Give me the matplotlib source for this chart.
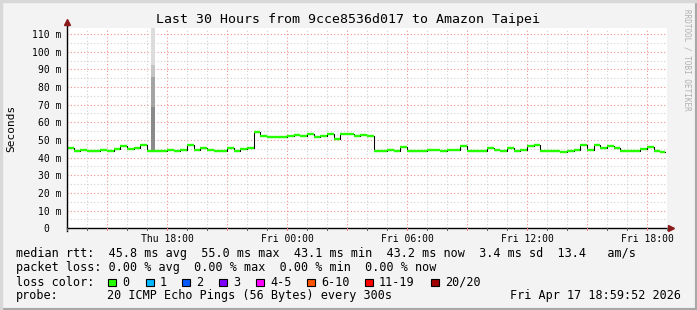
import numpy as np
import matplotlib
matplotlib.use("Agg")
from matplotlib import pyplot as plt
from matplotlib.patches import Rectangle
from matplotlib.lines import Line2D

# median rtt (ms), one sample every 20 minutes from Thu 13:00
rtt_thu = [45.5, 44.0, 44.5, 44.0, 43.8, 44.5, 44.0, 45.0, 46.5, 45.0,
           45.5, 47.0, 44.0, 44.0, 43.8, 44.5, 44.0, 44.5, 47.0, 44.5,
           45.5, 44.5, 43.8, 44.0, 45.5, 44.0, 45.0, 45.5]
rtt_night = [54.5, 52.0, 51.5, 51.5, 51.5, 52.0, 53.0, 52.5, 53.5, 51.5,
             52.5, 53.5, 50.8, 53.5, 53.5, 52.0, 53.0, 52.0]
rtt_fri = [44.0, 43.8, 44.2, 44.0, 45.8, 44.0, 43.8, 44.0, 44.2, 44.2,
           44.0, 44.6, 44.6, 46.5, 44.0, 43.8, 44.0, 45.5, 44.5, 44.0,
           45.5, 44.0, 44.5, 46.5, 47.0, 44.0, 44.0, 43.5, 43.1, 44.0,
           44.2, 47.0, 44.5, 47.0, 45.5, 46.5, 45.5, 44.0, 44.0, 44.0,
           45.0, 46.0, 44.0, 43.2]
rtt = rtt_thu + rtt_night + rtt_fri

# smoke spike around Thu 17:15 (band edges in ms)
spike_hour = 17.3
spike_edges = [44.0, 68.6, 85.6, 92.4, 113.4]
spike_greys = ["#8a8a8a", "#a4a4a4", "#c4c4c4", "#dcdcdc"]

x_ticks = [18, 24, 30, 36, 42]
x_labels = ["Thu 18:00", "Fri 00:00", "Fri 06:00", "Fri 12:00", "Fri 18:00"]
y_ticks = [0, 10, 20, 30, 40, 50, 60, 70, 80, 90, 100, 110]
y_labels = ["0  "] + [f"{v} m" for v in y_ticks[1:]]

stats_rtt = "median rtt:  45.8 ms avg  55.0 ms max  43.1 ms min  43.2 ms now  3.4 ms sd  13.4   am/s"
stats_loss = "packet loss: 0.00 % avg  0.00 % max  0.00 % min  0.00 % now"
loss_names = ["0", "1", "2", "3", "4-5", "6-10", "11-19", "20/20"]
loss_colors = ["#26ff00", "#00b8ff", "#0059ff", "#7e00ff", "#ff00ff", "#ff5500", "#ff0000", "#a10000"]
loss_x = [108, 146, 182, 219, 256, 307, 365, 431]
probe_text = "20 ICMP Echo Pings (56 Bytes) every 300s"
stamp = "Fri Apr 17 18:59:52 2026"

W, H = 697, 310
mono = "DejaVu Sans Mono"
fig = plt.figure(figsize=(W / 100, H / 100), dpi=100, facecolor="#f3f3f3")

# 3d-ish frame
fig.patches.append(Rectangle((0, 0), 1, 1, transform=fig.transFigure, fill=False,
                             edgecolor="#a8a8a8", lw=3))
fig.patches.append(Rectangle((0, 0), 0.003, 1, transform=fig.transFigure, color="#d8d8d8"))
fig.patches.append(Rectangle((0, 1), 1, -0.005, transform=fig.transFigure, color="#d8d8d8"))

x0, x1, ytop, ybot = 67, 667, 28, 228.3
ax = fig.add_axes([x0 / W, (H - ybot) / H, (x1 - x0) / W, (ybot - ytop) / H])
ax.set_facecolor("white")
ax.set_xlim(13, 43)
ax.set_ylim(0, 113.4)

# grid
for h in range(14, 43):
    major = h % 3 == 0
    ax.axvline(h, color="#f29090" if major else "#d0d0d0", lw=0.8,
               ls=(0, (1, 2)), zorder=1)
for v in range(5, 115, 5):
    major = v % 10 == 0
    ax.axhline(v, color="#f29090" if major else "#d0d0d0", lw=0.8,
               ls=(0, (1, 2)), zorder=1)

# smoke spike
for lo, hi, c in zip(spike_edges[:-1], spike_edges[1:], spike_greys):
    ax.bar(spike_hour, hi - lo, bottom=lo, width=0.18, color=c, lw=0,
           zorder=2, antialiased=False)

# median: black steps underneath, green levels on top
t = 13 + np.arange(len(rtt)) / 3
t_end = 42.92
ax.step(list(t) + [t_end], rtt + [rtt[-1]], where="post", color="black", lw=0.75, zorder=3)
ax.hlines(rtt, t, list(t[1:]) + [t_end], color="#26ff00", lw=1.7, zorder=4)

for s in ax.spines.values():
    s.set_visible(False)
ax.set_xticks(x_ticks)
ax.set_xticklabels(x_labels, fontfamily=mono, fontsize=7)
ax.set_yticks(y_ticks)
ax.set_yticklabels(y_labels, fontfamily=mono, fontsize=7)
ax.tick_params(length=0, pad=4)

# axes lines with arrows
def fx(px):
    return px / W

def fy(py):
    return 1 - py / H

fig.add_artist(Line2D([fx(66.5), fx(669)], [fy(ybot), fy(ybot)], color="black", lw=1))
fig.add_artist(Line2D([fx(66.5), fx(66.5)], [fy(ybot + 3), fy(24)], color="black", lw=1))
fig.add_artist(Line2D([fx(671)], [fy(ybot)], marker=">", color="#8b1a1a", ms=4, lw=0))
fig.add_artist(Line2D([fx(66.5)], [fy(22)], marker="^", color="#8b1a1a", ms=4, lw=0))
for h in range(13, 44):
    px = x0 + (h - 13) * 20
    c = "#f08080" if h % 3 == 0 else "#606060"
    fig.add_artist(Line2D([fx(px), fx(px)], [fy(ybot), fy(ybot + 2)], color=c, lw=0.7))

fig.text(0.5, fy(19), "Last 30 Hours from 9cce8536d017 to Amazon Taipei",
         ha="center", va="center", fontfamily=mono, fontsize=9.5)
fig.text(fx(11), fy(128), "Seconds", rotation=90, ha="center", va="center",
         fontfamily=mono, fontsize=8)
fig.text(fx(687), fy(60), "RRDTOOL / TOBI OETIKER", rotation=270, ha="center",
         va="center", fontfamily=mono, fontsize=5.5, color="#b0b0b0")

fs = 8.5
fig.text(fx(16), fy(254), stats_rtt, ha="left", va="center", fontfamily=mono, fontsize=fs)
fig.text(fx(16), fy(268), stats_loss, ha="left", va="center", fontfamily=mono, fontsize=fs)
fig.text(fx(16), fy(282), "loss color:", ha="left", va="center", fontfamily=mono, fontsize=fs)
for name, c, px in zip(loss_names, loss_colors, loss_x):
    fig.patches.append(Rectangle((fx(px), fy(286)), 7.5 / W, 7.5 / H,
                                 transform=fig.transFigure, facecolor=c,
                                 edgecolor="black", lw=0.8))
    fig.text(fx(px + 14), fy(282), name, ha="left", va="center", fontfamily=mono, fontsize=fs)
fig.text(fx(16), fy(296), "probe:", ha="left", va="center", fontfamily=mono, fontsize=fs)
fig.text(fx(107), fy(296), probe_text, ha="left", va="center", fontfamily=mono, fontsize=fs)
fig.text(fx(681), fy(296), stamp, ha="right", va="center", fontfamily=mono, fontsize=fs)

fig.savefig("out.png", dpi=100, facecolor=fig.get_facecolor())
